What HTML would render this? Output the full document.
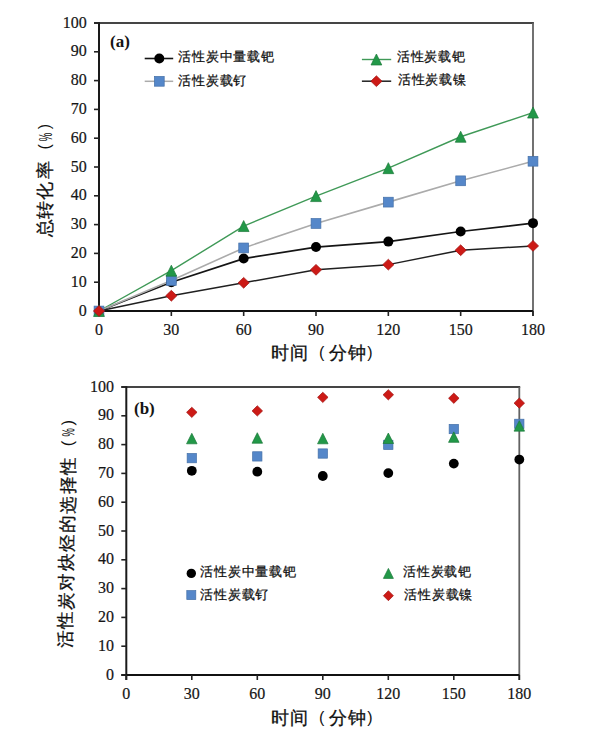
<!DOCTYPE html>
<html><head><meta charset="utf-8">
<style>
html,body{margin:0;padding:0;background:#fff;}
body{width:600px;height:737px;overflow:hidden;position:relative;}
svg{position:absolute;left:0;top:0;display:block;}
.num{font-family:"Liberation Serif",serif;font-size:16px;fill:#151515;stroke:#151515;stroke-width:0.2px;}
.leg{font-family:"Liberation Sans",sans-serif;font-size:12.5px;fill:#111;letter-spacing:0.75px;stroke:#111;stroke-width:0.25px;}
.lab{font-family:"Liberation Serif",serif;font-size:17px;font-weight:bold;fill:#151515;}
.ttl{font-family:"Liberation Sans",sans-serif;font-size:17.5px;fill:#111;stroke:#111;stroke-width:0.3px;}
.par{font-family:"Liberation Sans",sans-serif;font-size:16px;fill:#111;}
.pct{font-family:"Liberation Sans",sans-serif;font-size:17.5px;fill:#111;}
</style></head><body>
<svg width="600" height="737" viewBox="0 0 600 737">
<rect width="600" height="737" fill="#fff"/>
<line x1="94" y1="23" x2="533.9" y2="23" stroke="#454545" stroke-width="2"/>
<line x1="533" y1="23" x2="533" y2="316" stroke="#626262" stroke-width="1.8"/>
<line x1="99" y1="22.2" x2="99" y2="316" stroke="#1a1a1a" stroke-width="2"/>
<line x1="94" y1="311" x2="533" y2="311" stroke="#111" stroke-width="2"/>
<line x1="94" y1="311.00" x2="99" y2="311.00" stroke="#222" stroke-width="1.6"/>
<text transform="translate(86.8,315.60) scale(1,1.1)" text-anchor="end" class="num">0</text>
<line x1="94" y1="282.20" x2="99" y2="282.20" stroke="#222" stroke-width="1.6"/>
<text transform="translate(86.8,286.80) scale(1,1.1)" text-anchor="end" class="num">10</text>
<line x1="94" y1="253.40" x2="99" y2="253.40" stroke="#222" stroke-width="1.6"/>
<text transform="translate(86.8,258.00) scale(1,1.1)" text-anchor="end" class="num">20</text>
<line x1="94" y1="224.60" x2="99" y2="224.60" stroke="#222" stroke-width="1.6"/>
<text transform="translate(86.8,229.20) scale(1,1.1)" text-anchor="end" class="num">30</text>
<line x1="94" y1="195.80" x2="99" y2="195.80" stroke="#222" stroke-width="1.6"/>
<text transform="translate(86.8,200.40) scale(1,1.1)" text-anchor="end" class="num">40</text>
<line x1="94" y1="167.00" x2="99" y2="167.00" stroke="#222" stroke-width="1.6"/>
<text transform="translate(86.8,171.60) scale(1,1.1)" text-anchor="end" class="num">50</text>
<line x1="94" y1="138.20" x2="99" y2="138.20" stroke="#222" stroke-width="1.6"/>
<text transform="translate(86.8,142.80) scale(1,1.1)" text-anchor="end" class="num">60</text>
<line x1="94" y1="109.40" x2="99" y2="109.40" stroke="#222" stroke-width="1.6"/>
<text transform="translate(86.8,114.00) scale(1,1.1)" text-anchor="end" class="num">70</text>
<line x1="94" y1="80.60" x2="99" y2="80.60" stroke="#222" stroke-width="1.6"/>
<text transform="translate(86.8,85.20) scale(1,1.1)" text-anchor="end" class="num">80</text>
<line x1="94" y1="51.80" x2="99" y2="51.80" stroke="#222" stroke-width="1.6"/>
<text transform="translate(86.8,56.40) scale(1,1.1)" text-anchor="end" class="num">90</text>
<line x1="94" y1="23.00" x2="99" y2="23.00" stroke="#222" stroke-width="1.6"/>
<text transform="translate(86.8,27.60) scale(1,1.1)" text-anchor="end" class="num">100</text>
<line x1="99.00" y1="311" x2="99.00" y2="316" stroke="#222" stroke-width="1.6"/>
<text transform="translate(99.00,335.4) scale(1,1.1)" text-anchor="middle" class="num">0</text>
<line x1="171.33" y1="311" x2="171.33" y2="316" stroke="#222" stroke-width="1.6"/>
<text transform="translate(171.33,335.4) scale(1,1.1)" text-anchor="middle" class="num">30</text>
<line x1="243.67" y1="311" x2="243.67" y2="316" stroke="#222" stroke-width="1.6"/>
<text transform="translate(243.67,335.4) scale(1,1.1)" text-anchor="middle" class="num">60</text>
<line x1="316.00" y1="311" x2="316.00" y2="316" stroke="#222" stroke-width="1.6"/>
<text transform="translate(316.00,335.4) scale(1,1.1)" text-anchor="middle" class="num">90</text>
<line x1="388.33" y1="311" x2="388.33" y2="316" stroke="#222" stroke-width="1.6"/>
<text transform="translate(388.33,335.4) scale(1,1.1)" text-anchor="middle" class="num">120</text>
<line x1="460.67" y1="311" x2="460.67" y2="316" stroke="#222" stroke-width="1.6"/>
<text transform="translate(460.67,335.4) scale(1,1.1)" text-anchor="middle" class="num">150</text>
<line x1="533.00" y1="311" x2="533.00" y2="316" stroke="#222" stroke-width="1.6"/>
<text transform="translate(533.00,335.4) scale(1,1.1)" text-anchor="middle" class="num">180</text>
<polyline points="99.00,311.00 171.33,282.20 243.67,258.58 316.00,247.06 388.33,241.59 460.67,231.51 533.00,223.16" fill="none" stroke="#151515" stroke-width="1.7" stroke-linejoin="round"/>
<polyline points="99.00,311.00 171.33,270.68 243.67,226.04 316.00,196.09 388.33,168.15 460.67,136.76 533.00,112.57" fill="none" stroke="#3f9957" stroke-width="1.4" stroke-linejoin="round"/>
<polyline points="99.00,311.00 171.33,280.47 243.67,247.93 316.00,223.45 388.33,202.14 460.67,180.82 533.00,161.24" fill="none" stroke="#ababab" stroke-width="1.6" stroke-linejoin="round"/>
<polyline points="99.00,311.00 171.33,295.74 243.67,282.78 316.00,269.82 388.33,264.63 460.67,250.23 533.00,245.91" fill="none" stroke="#202020" stroke-width="1.5" stroke-linejoin="round"/>
<circle cx="99.00" cy="311.00" r="5.0" fill="#000"/>
<circle cx="171.33" cy="282.20" r="5.0" fill="#000"/>
<circle cx="243.67" cy="258.58" r="5.0" fill="#000"/>
<circle cx="316.00" cy="247.06" r="5.0" fill="#000"/>
<circle cx="388.33" cy="241.59" r="5.0" fill="#000"/>
<circle cx="460.67" cy="231.51" r="5.0" fill="#000"/>
<circle cx="533.00" cy="223.16" r="5.0" fill="#000"/>
<rect x="94.10" y="306.10" width="9.8" height="9.8" fill="#5587c9" stroke="#4470a8" stroke-width="0.7"/>
<rect x="166.43" y="275.57" width="9.8" height="9.8" fill="#5587c9" stroke="#4470a8" stroke-width="0.7"/>
<rect x="238.77" y="243.03" width="9.8" height="9.8" fill="#5587c9" stroke="#4470a8" stroke-width="0.7"/>
<rect x="311.10" y="218.55" width="9.8" height="9.8" fill="#5587c9" stroke="#4470a8" stroke-width="0.7"/>
<rect x="383.43" y="197.24" width="9.8" height="9.8" fill="#5587c9" stroke="#4470a8" stroke-width="0.7"/>
<rect x="455.77" y="175.92" width="9.8" height="9.8" fill="#5587c9" stroke="#4470a8" stroke-width="0.7"/>
<rect x="528.10" y="156.34" width="9.8" height="9.8" fill="#5587c9" stroke="#4470a8" stroke-width="0.7"/>
<polygon points="99.00,305.50 104.40,316.50 93.60,316.50" fill="#229848" stroke="#1b7a3a" stroke-width="0.7"/>
<polygon points="171.33,265.18 176.73,276.18 165.93,276.18" fill="#229848" stroke="#1b7a3a" stroke-width="0.7"/>
<polygon points="243.67,220.54 249.07,231.54 238.27,231.54" fill="#229848" stroke="#1b7a3a" stroke-width="0.7"/>
<polygon points="316.00,190.59 321.40,201.59 310.60,201.59" fill="#229848" stroke="#1b7a3a" stroke-width="0.7"/>
<polygon points="388.33,162.65 393.73,173.65 382.93,173.65" fill="#229848" stroke="#1b7a3a" stroke-width="0.7"/>
<polygon points="460.67,131.26 466.07,142.26 455.27,142.26" fill="#229848" stroke="#1b7a3a" stroke-width="0.7"/>
<polygon points="533.00,107.07 538.40,118.07 527.60,118.07" fill="#229848" stroke="#1b7a3a" stroke-width="0.7"/>
<polygon points="99.00,305.60 104.60,311.00 99.00,316.40 93.40,311.00" fill="#cc1a16" stroke="#a01412" stroke-width="0.7"/>
<polygon points="171.33,290.34 176.93,295.74 171.33,301.14 165.73,295.74" fill="#cc1a16" stroke="#a01412" stroke-width="0.7"/>
<polygon points="243.67,277.38 249.27,282.78 243.67,288.18 238.07,282.78" fill="#cc1a16" stroke="#a01412" stroke-width="0.7"/>
<polygon points="316.00,264.42 321.60,269.82 316.00,275.22 310.40,269.82" fill="#cc1a16" stroke="#a01412" stroke-width="0.7"/>
<polygon points="388.33,259.23 393.93,264.63 388.33,270.03 382.73,264.63" fill="#cc1a16" stroke="#a01412" stroke-width="0.7"/>
<polygon points="460.67,244.83 466.27,250.23 460.67,255.63 455.07,250.23" fill="#cc1a16" stroke="#a01412" stroke-width="0.7"/>
<polygon points="533.00,240.51 538.60,245.91 533.00,251.31 527.40,245.91" fill="#cc1a16" stroke="#a01412" stroke-width="0.7"/>
<line x1="144.7" y1="58.5" x2="173.2" y2="58.5" stroke="#151515" stroke-width="1.6"/>
<circle cx="159.30" cy="58.50" r="5.0" fill="#000"/>
<line x1="144.7" y1="81.3" x2="173.2" y2="81.3" stroke="#ababab" stroke-width="1.5"/>
<rect x="154.40" y="76.40" width="9.8" height="9.8" fill="#5587c9" stroke="#4470a8" stroke-width="0.7"/>
<line x1="361.9" y1="59.5" x2="391.2" y2="59.5" stroke="#3f9957" stroke-width="1.4"/>
<polygon points="376.40,54.00 381.80,65.00 371.00,65.00" fill="#229848" stroke="#1b7a3a" stroke-width="0.7"/>
<line x1="361.9" y1="81.2" x2="391.2" y2="81.2" stroke="#202020" stroke-width="1.5"/>
<polygon points="376.40,75.80 382.00,81.20 376.40,86.60 370.80,81.20" fill="#cc1a16" stroke="#a01412" stroke-width="0.7"/>
<text x="178.3" y="61.2" class="leg">活性炭中量载钯</text>
<text x="178.3" y="84.8" class="leg">活性炭载钌</text>
<text x="396.8" y="61" class="leg">活性炭载钯</text>
<text x="397.8" y="84" class="leg">活性炭载镍</text>
<text x="110" y="47" class="lab">(a)</text>
<text x="270.60" y="359" class="ttl">时</text>
<text x="290.30" y="359" class="ttl">间</text>
<text x="328.60" y="359" class="ttl">分</text>
<text x="348.30" y="359" class="ttl">钟</text>
<text x="319.0" y="357.5" class="par">(</text>
<text x="367.3" y="357.5" class="par">)</text>
<text transform="translate(51.10,236.70) rotate(-90.0)" class="ttl">总</text>
<text transform="translate(51.10,219.00) rotate(-90.0)" class="ttl">转</text>
<text transform="translate(51.10,200.00) rotate(-90.0)" class="ttl">化</text>
<text transform="translate(51.10,179.30) rotate(-90.0)" class="ttl">率</text>
<text transform="translate(50.30,149.50) rotate(-90.0)" class="par">(</text>
<text transform="translate(51.70,141.30) rotate(-90.0) scale(0.55,1)" class="pct">%</text>
<text transform="translate(50.30,129.30) rotate(-90.0)" class="par">)</text>
<line x1="121.3" y1="387" x2="520.1999999999999" y2="387" stroke="#454545" stroke-width="2"/>
<line x1="519.3" y1="387" x2="519.3" y2="680" stroke="#626262" stroke-width="1.8"/>
<line x1="126.3" y1="386.2" x2="126.3" y2="680" stroke="#1a1a1a" stroke-width="2"/>
<line x1="121.3" y1="675" x2="519.3" y2="675" stroke="#111" stroke-width="2"/>
<line x1="121.3" y1="675.00" x2="126.3" y2="675.00" stroke="#222" stroke-width="1.6"/>
<text transform="translate(114,679.60) scale(1,1.1)" text-anchor="end" class="num">0</text>
<line x1="121.3" y1="646.20" x2="126.3" y2="646.20" stroke="#222" stroke-width="1.6"/>
<text transform="translate(114,650.80) scale(1,1.1)" text-anchor="end" class="num">10</text>
<line x1="121.3" y1="617.40" x2="126.3" y2="617.40" stroke="#222" stroke-width="1.6"/>
<text transform="translate(114,622.00) scale(1,1.1)" text-anchor="end" class="num">20</text>
<line x1="121.3" y1="588.60" x2="126.3" y2="588.60" stroke="#222" stroke-width="1.6"/>
<text transform="translate(114,593.20) scale(1,1.1)" text-anchor="end" class="num">30</text>
<line x1="121.3" y1="559.80" x2="126.3" y2="559.80" stroke="#222" stroke-width="1.6"/>
<text transform="translate(114,564.40) scale(1,1.1)" text-anchor="end" class="num">40</text>
<line x1="121.3" y1="531.00" x2="126.3" y2="531.00" stroke="#222" stroke-width="1.6"/>
<text transform="translate(114,535.60) scale(1,1.1)" text-anchor="end" class="num">50</text>
<line x1="121.3" y1="502.20" x2="126.3" y2="502.20" stroke="#222" stroke-width="1.6"/>
<text transform="translate(114,506.80) scale(1,1.1)" text-anchor="end" class="num">60</text>
<line x1="121.3" y1="473.40" x2="126.3" y2="473.40" stroke="#222" stroke-width="1.6"/>
<text transform="translate(114,478.00) scale(1,1.1)" text-anchor="end" class="num">70</text>
<line x1="121.3" y1="444.60" x2="126.3" y2="444.60" stroke="#222" stroke-width="1.6"/>
<text transform="translate(114,449.20) scale(1,1.1)" text-anchor="end" class="num">80</text>
<line x1="121.3" y1="415.80" x2="126.3" y2="415.80" stroke="#222" stroke-width="1.6"/>
<text transform="translate(114,420.40) scale(1,1.1)" text-anchor="end" class="num">90</text>
<line x1="121.3" y1="387.00" x2="126.3" y2="387.00" stroke="#222" stroke-width="1.6"/>
<text transform="translate(114,391.60) scale(1,1.1)" text-anchor="end" class="num">100</text>
<line x1="126.30" y1="675" x2="126.30" y2="680" stroke="#222" stroke-width="1.6"/>
<text transform="translate(126.30,699.4) scale(1,1.1)" text-anchor="middle" class="num">0</text>
<line x1="191.80" y1="675" x2="191.80" y2="680" stroke="#222" stroke-width="1.6"/>
<text transform="translate(191.80,699.4) scale(1,1.1)" text-anchor="middle" class="num">30</text>
<line x1="257.30" y1="675" x2="257.30" y2="680" stroke="#222" stroke-width="1.6"/>
<text transform="translate(257.30,699.4) scale(1,1.1)" text-anchor="middle" class="num">60</text>
<line x1="322.80" y1="675" x2="322.80" y2="680" stroke="#222" stroke-width="1.6"/>
<text transform="translate(322.80,699.4) scale(1,1.1)" text-anchor="middle" class="num">90</text>
<line x1="388.30" y1="675" x2="388.30" y2="680" stroke="#222" stroke-width="1.6"/>
<text transform="translate(388.30,699.4) scale(1,1.1)" text-anchor="middle" class="num">120</text>
<line x1="453.80" y1="675" x2="453.80" y2="680" stroke="#222" stroke-width="1.6"/>
<text transform="translate(453.80,699.4) scale(1,1.1)" text-anchor="middle" class="num">150</text>
<line x1="519.30" y1="675" x2="519.30" y2="680" stroke="#222" stroke-width="1.6"/>
<text transform="translate(519.30,699.4) scale(1,1.1)" text-anchor="middle" class="num">180</text>
<circle cx="191.80" cy="470.81" r="4.9" fill="#000"/>
<circle cx="257.30" cy="471.67" r="4.9" fill="#000"/>
<circle cx="322.80" cy="475.99" r="4.9" fill="#000"/>
<circle cx="388.30" cy="473.11" r="4.9" fill="#000"/>
<circle cx="453.80" cy="463.61" r="4.9" fill="#000"/>
<circle cx="519.30" cy="459.58" r="4.9" fill="#000"/>
<rect x="187.15" y="453.49" width="9.3" height="9.3" fill="#5587c9" stroke="#4470a8" stroke-width="0.7"/>
<rect x="252.65" y="451.76" width="9.3" height="9.3" fill="#5587c9" stroke="#4470a8" stroke-width="0.7"/>
<rect x="318.15" y="448.88" width="9.3" height="9.3" fill="#5587c9" stroke="#4470a8" stroke-width="0.7"/>
<rect x="383.65" y="440.24" width="9.3" height="9.3" fill="#5587c9" stroke="#4470a8" stroke-width="0.7"/>
<rect x="449.15" y="424.40" width="9.3" height="9.3" fill="#5587c9" stroke="#4470a8" stroke-width="0.7"/>
<rect x="514.65" y="419.21" width="9.3" height="9.3" fill="#5587c9" stroke="#4470a8" stroke-width="0.7"/>
<polygon points="191.80,433.30 197.05,443.80 186.55,443.80" fill="#229848" stroke="#1b7a3a" stroke-width="0.7"/>
<polygon points="257.30,432.73 262.55,443.23 252.05,443.23" fill="#229848" stroke="#1b7a3a" stroke-width="0.7"/>
<polygon points="322.80,433.30 328.05,443.80 317.55,443.80" fill="#229848" stroke="#1b7a3a" stroke-width="0.7"/>
<polygon points="388.30,433.01 393.55,443.51 383.05,443.51" fill="#229848" stroke="#1b7a3a" stroke-width="0.7"/>
<polygon points="453.80,431.86 459.05,442.36 448.55,442.36" fill="#229848" stroke="#1b7a3a" stroke-width="0.7"/>
<polygon points="519.30,420.63 524.55,431.13 514.05,431.13" fill="#229848" stroke="#1b7a3a" stroke-width="0.7"/>
<polygon points="191.80,407.19 197.05,412.34 191.80,417.49 186.55,412.34" fill="#cc1a16" stroke="#a01412" stroke-width="0.7"/>
<polygon points="257.30,405.75 262.55,410.90 257.30,416.05 252.05,410.90" fill="#cc1a16" stroke="#a01412" stroke-width="0.7"/>
<polygon points="322.80,392.22 328.05,397.37 322.80,402.52 317.55,397.37" fill="#cc1a16" stroke="#a01412" stroke-width="0.7"/>
<polygon points="388.30,389.63 393.55,394.78 388.30,399.93 383.05,394.78" fill="#cc1a16" stroke="#a01412" stroke-width="0.7"/>
<polygon points="453.80,393.08 459.05,398.23 453.80,403.38 448.55,398.23" fill="#cc1a16" stroke="#a01412" stroke-width="0.7"/>
<polygon points="519.30,397.98 524.55,403.13 519.30,408.28 514.05,403.13" fill="#cc1a16" stroke="#a01412" stroke-width="0.7"/>
<circle cx="191.30" cy="573.40" r="4.7" fill="#000"/>
<rect x="186.80" y="590.60" width="9" height="9" fill="#5587c9" stroke="#4470a8" stroke-width="0.7"/>
<polygon points="388.40,568.40 393.40,578.40 383.40,578.40" fill="#229848" stroke="#1b7a3a" stroke-width="0.7"/>
<polygon points="388.40,590.70 393.40,595.70 388.40,600.70 383.40,595.70" fill="#cc1a16" stroke="#a01412" stroke-width="0.7"/>
<text x="200.3" y="575.8" class="leg">活性炭中量载钯</text>
<text x="200.3" y="598.6" class="leg">活性炭载钌</text>
<text x="403.2" y="575.8" class="leg">活性炭载钯</text>
<text x="404.3" y="598.6" class="leg">活性炭载镍</text>
<text x="134" y="413.8" class="lab">(b)</text>
<text x="270.60" y="724" class="ttl">时</text>
<text x="290.30" y="724" class="ttl">间</text>
<text x="328.60" y="724" class="ttl">分</text>
<text x="348.30" y="724" class="ttl">钟</text>
<text x="319.0" y="722.5" class="par">(</text>
<text x="367.3" y="722.5" class="par">)</text>
<g transform="rotate(1.07 65 533)">
<text transform="translate(73.20,648.30) rotate(-90.0)" class="ttl">活</text>
<text transform="translate(73.20,629.05) rotate(-90.0)" class="ttl">性</text>
<text transform="translate(73.20,609.80) rotate(-90.0)" class="ttl">炭</text>
<text transform="translate(73.20,590.55) rotate(-90.0)" class="ttl">对</text>
<text transform="translate(73.20,571.30) rotate(-90.0)" class="ttl">炔</text>
<text transform="translate(73.20,552.05) rotate(-90.0)" class="ttl">烃</text>
<text transform="translate(73.20,532.80) rotate(-90.0)" class="ttl">的</text>
<text transform="translate(73.20,513.55) rotate(-90.0)" class="ttl">选</text>
<text transform="translate(73.20,494.30) rotate(-90.0)" class="ttl">择</text>
<text transform="translate(73.20,475.05) rotate(-90.0)" class="ttl">性</text>
<text transform="translate(71.10,446.20) rotate(-90.0)" class="par">(</text>
<text transform="translate(72.50,436.60) rotate(-90.0) scale(0.55,1)" class="pct">%</text>
<text transform="translate(71.10,425.30) rotate(-90.0)" class="par">)</text>
</g>
</svg>
</body></html>
